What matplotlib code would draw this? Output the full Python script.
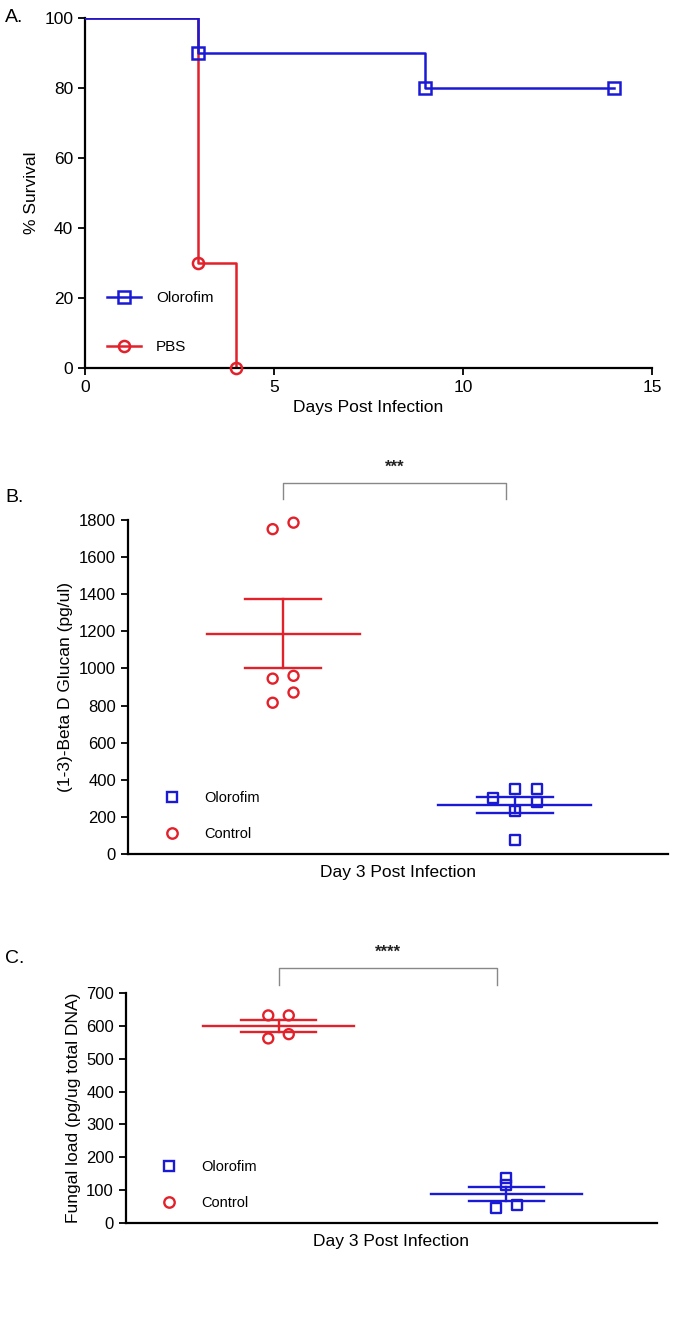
import matplotlib.pyplot as plt
import numpy as np
from matplotlib.lines import Line2D

plt.rcParams["font.family"] = ["Liberation Sans", "DejaVu Sans"]

BLUE = "#1a1ad6"
RED = "#e3212b"

# Panel A: survival
olo_days = [0, 3, 9, 14]
olo_surv = [100, 90, 80, 80]
pbs_days = [0, 3, 4]
pbs_surv = [100, 30, 0]

# Panel B: (1-3)-Beta D Glucan
glucan_control = [1750, 1785, 945, 960, 870, 815]
glucan_control_jit = [-0.045, 0.045, -0.045, 0.045, 0.045, -0.045]
glucan_olo = [300, 350, 350, 280, 230, 75]
glucan_olo_jit = [-0.095, 0.0, 0.095, 0.095, 0.0, 0.0]

# Panel C: fungal load
fungal_control = [632, 632, 562, 575]
fungal_control_jit = [-0.045, 0.045, -0.045, 0.045]
fungal_olo = [138, 115, 45, 55]
fungal_olo_jit = [0.0, 0.0, -0.045, 0.045]


def style_axes(ax, size=12):
    for s in ["top", "right"]:
        ax.spines[s].set_visible(False)
    for s in ["left", "bottom"]:
        ax.spines[s].set_linewidth(1.6)
    ax.tick_params(width=1.3, length=5, labelsize=size)


def dot_panel(ax, control, cj, olo, oj, ymax, ystep, ylabel, br_top, br_bot, stars):
    for x0, vals, jit, col, mk in [(0, control, cj, RED, "o"), (1, olo, oj, BLUE, "s")]:
        vals = np.array(vals, dtype=float)
        m = vals.mean()
        sem = vals.std(ddof=1) / np.sqrt(len(vals))
        ax.plot([x0 - 0.33, x0 + 0.33], [m, m], color=col, lw=1.7, zorder=2)
        ax.plot([x0 - 0.165, x0 + 0.165], [m + sem, m + sem], color=col, lw=1.7, zorder=2)
        ax.plot([x0 - 0.165, x0 + 0.165], [m - sem, m - sem], color=col, lw=1.7, zorder=2)
        ax.plot([x0, x0], [m - sem, m + sem], color=col, lw=1.7, zorder=2)
        ax.scatter(x0 + np.array(jit), vals, marker=mk, s=52, facecolors="none",
                   edgecolors=col, linewidths=1.7, zorder=3, clip_on=False)
    ax.set_xlim(-0.67, 1.66)
    ax.set_ylim(0, ymax)
    ax.set_yticks(np.arange(0, ymax + 1, ystep))
    ax.set_xticks([])
    ax.set_xlabel("Day 3 Post Infection", fontsize=12.5, labelpad=8)
    ax.set_ylabel(ylabel, fontsize=12.5)
    style_axes(ax)
    ax.plot([0, 0, 0.96, 0.96], [br_bot, br_top, br_top, br_bot], color="#888888",
            lw=1.0, clip_on=False)
    ax.text(0.48, br_top + (br_top - br_bot) * 0.5, stars, ha="center", va="bottom",
            fontsize=12, fontweight="bold", color="#222222", clip_on=False)
    handles = [Line2D([], [], ls="none", marker="s", mfc="none", mec=BLUE, mew=1.7, ms=7.5),
               Line2D([], [], ls="none", marker="o", mfc="none", mec=RED, mew=1.7, ms=7.5)]
    ax.legend(handles, ["Olorofim", "Control"], loc="lower left", bbox_to_anchor=(0.03, 0.0),
              frameon=False, fontsize=10.5, labelspacing=1.5, handletextpad=1.2)


fig = plt.figure(figsize=(6.8, 13.33), dpi=100)

# ---- A ----
axA = fig.add_axes([0.125, 0.724, 0.834, 0.2625])
axA.step(pbs_days, pbs_surv, where="post", color=RED, lw=1.8, zorder=2)
axA.plot(pbs_days[1:], pbs_surv[1:], ls="none", marker="o", mfc="none", mec=RED, mew=1.8,
         ms=8, zorder=3, clip_on=False)
axA.step(olo_days, olo_surv, where="post", color=BLUE, lw=1.8, zorder=4)
axA.plot(olo_days[1:], olo_surv[1:], ls="none", marker="s", mfc="none", mec=BLUE, mew=1.8,
         ms=8, zorder=5, clip_on=False)
axA.set_xlim(0, 15)
axA.set_ylim(0, 100)
axA.set_xticks([0, 5, 10, 15])
axA.set_yticks([0, 20, 40, 60, 80, 100])
axA.set_xlabel("Days Post Infection", fontsize=12.5, labelpad=4)
axA.set_ylabel("% Survival", fontsize=12.5)
style_axes(axA, 12.5)
hA = [Line2D([], [], color=BLUE, lw=1.8, marker="s", mfc="none", mec=BLUE, mew=1.8, ms=8),
      Line2D([], [], color=RED, lw=1.8, marker="o", mfc="none", mec=RED, mew=1.8, ms=8)]
axA.legend(hA, ["Olorofim", "PBS"], loc="lower left", bbox_to_anchor=(0.015, 0.0),
           frameon=False, fontsize=11, labelspacing=2.3, handlelength=2.2, handletextpad=1.0)

# ---- B ----
axB = fig.add_axes([0.188, 0.3593, 0.794, 0.2507])
dot_panel(axB, glucan_control, glucan_control_jit, glucan_olo, glucan_olo_jit,
          1800, 200, "(1-3)-Beta D Glucan (pg/ul)", 2000, 1910, "***")

# ---- C ----
axC = fig.add_axes([0.185, 0.0825, 0.781, 0.1725])
dot_panel(axC, fungal_control, fungal_control_jit, fungal_olo, fungal_olo_jit,
          700, 100, "Fungal load (pg/ug total DNA)", 776, 726, "****")

fig.text(0.008, 0.9865, "A.", fontsize=14, va="center")
fig.text(0.008, 0.627, "B.", fontsize=14, va="center")
fig.text(0.008, 0.281, "C.", fontsize=14, va="center")

plt.savefig("out.png", dpi=100)
